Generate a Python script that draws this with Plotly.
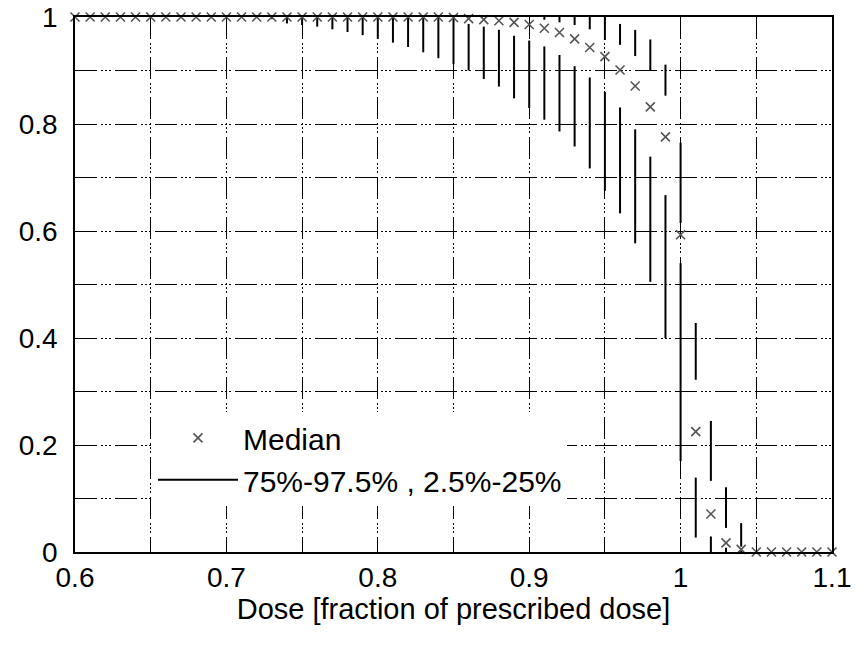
import plotly.graph_objects as go

dose = [0.60, 0.61, 0.62, 0.63, 0.64, 0.65, 0.66, 0.67, 0.68, 0.69,
        0.70, 0.71, 0.72, 0.73, 0.74, 0.75, 0.76, 0.77, 0.78, 0.79,
        0.80, 0.81, 0.82, 0.83, 0.84, 0.85, 0.86, 0.87, 0.88, 0.89,
        0.90, 0.91, 0.92, 0.93, 0.94, 0.95, 0.96, 0.97, 0.98, 0.99,
        1.00, 1.01, 1.02, 1.03, 1.04, 1.05, 1.06, 1.07, 1.08, 1.09, 1.10]

median = [1.0] * 25 + [0.999, 0.997, 0.995, 0.993, 0.990, 0.986, 0.979, 0.971, 0.959, 0.943,
                       0.926, 0.901, 0.871, 0.832, 0.776, 0.593, 0.225, 0.071, 0.017, 0.005] + [0.0] * 6

p2_5 = [1.0] * 13 + [0.996, 0.988, 0.985, 0.982, 0.977, 0.972, 0.966, 0.959, 0.952, 0.944,
                     0.934, 0.923, 0.912, 0.900, 0.884, 0.870, 0.848, 0.830, 0.808, 0.786,
                     0.758, 0.717, 0.675, 0.633, 0.577, 0.505, 0.400, 0.170, 0.027, 0.0,
                     0.0, 0.0] + [0.0] * 6

p25 = [1.0] * 26 + [0.987, 0.982, 0.976, 0.965, 0.956, 0.945, 0.929, 0.908, 0.887, 0.860,
                    0.831, 0.790, 0.739, 0.667, 0.540, 0.139, 0.029, 0.008, 0.002] + [0.0] * 6

p75 = [1.0] * 31 + [0.995, 0.990, 0.985, 0.977, 0.957, 0.948, 0.927, 0.900, 0.853, 0.615,
                    0.322, 0.133, 0.045, 0.010] + [0.0] * 6

p97_5 = [1.0] * 36 + [0.987, 0.976, 0.958, 0.911, 0.765, 0.428, 0.245, 0.121, 0.054] + [0.0] * 6

seg_x, seg_y = [], []
for d, a, b, c, e in zip(dose, p2_5, p25, p75, p97_5):
    for lo, hi in ((a, b), (c, e)):
        if hi - lo > 1e-9:
            seg_x += [d, d, None]
            seg_y += [lo, hi, None]

fig = go.Figure()
fig.add_trace(go.Scatter(
    x=seg_x, y=seg_y, mode='lines', name='75%-97.5% , 2.5%-25%',
    line=dict(color='black', width=2), cliponaxis=False, legendrank=2))
fig.add_trace(go.Scatter(
    x=dose, y=median, mode='markers', name='Median',
    marker=dict(symbol='x-thin', size=9, color='#555',
                line=dict(width=1.6, color='#555')),
    cliponaxis=False, legendrank=1))

gd = "22px,4px,2px,2px,2px,2px,2px,4px"
axis_common = dict(
    showgrid=True, gridcolor='black', gridwidth=1, griddash=gd,
    showline=True, linecolor='black', linewidth=1.5, mirror=True,
    ticks='inside', ticklen=8, tickcolor='black', zeroline=False,
    automargin=False,
)

fig.update_layout(
    width=864, height=648,
    margin=dict(l=75, r=32, t=17, b=96),
    plot_bgcolor='white', paper_bgcolor='white',
    font=dict(family='Liberation Sans, Arial, sans-serif', size=28, color='black'),
    legend=dict(x=0.103, y=0.262, xanchor='left', yanchor='top',
                bgcolor='white', borderwidth=0, font=dict(size=30),
                itemwidth=80, tracegroupgap=0),
    xaxis=dict(range=[0.6, 1.1], tick0=0.6, dtick=0.1,
               minor=dict(dtick=0.05, showgrid=True, gridcolor='black', gridwidth=1,
                          griddash=gd, ticks='inside', ticklen=6, tickcolor='black'),
               title=dict(text='Dose [fraction of prescribed dose]', font=dict(size=29), standoff=0),
               **axis_common),
    yaxis=dict(range=[0, 1], tick0=0, dtick=0.2, ticklabelstandoff=10,
               minor=dict(dtick=0.1, showgrid=True, gridcolor='black', gridwidth=1,
                          griddash=gd, ticks='inside', ticklen=6, tickcolor='black'),
               **axis_common),
)

fig.write_html("out.html")
